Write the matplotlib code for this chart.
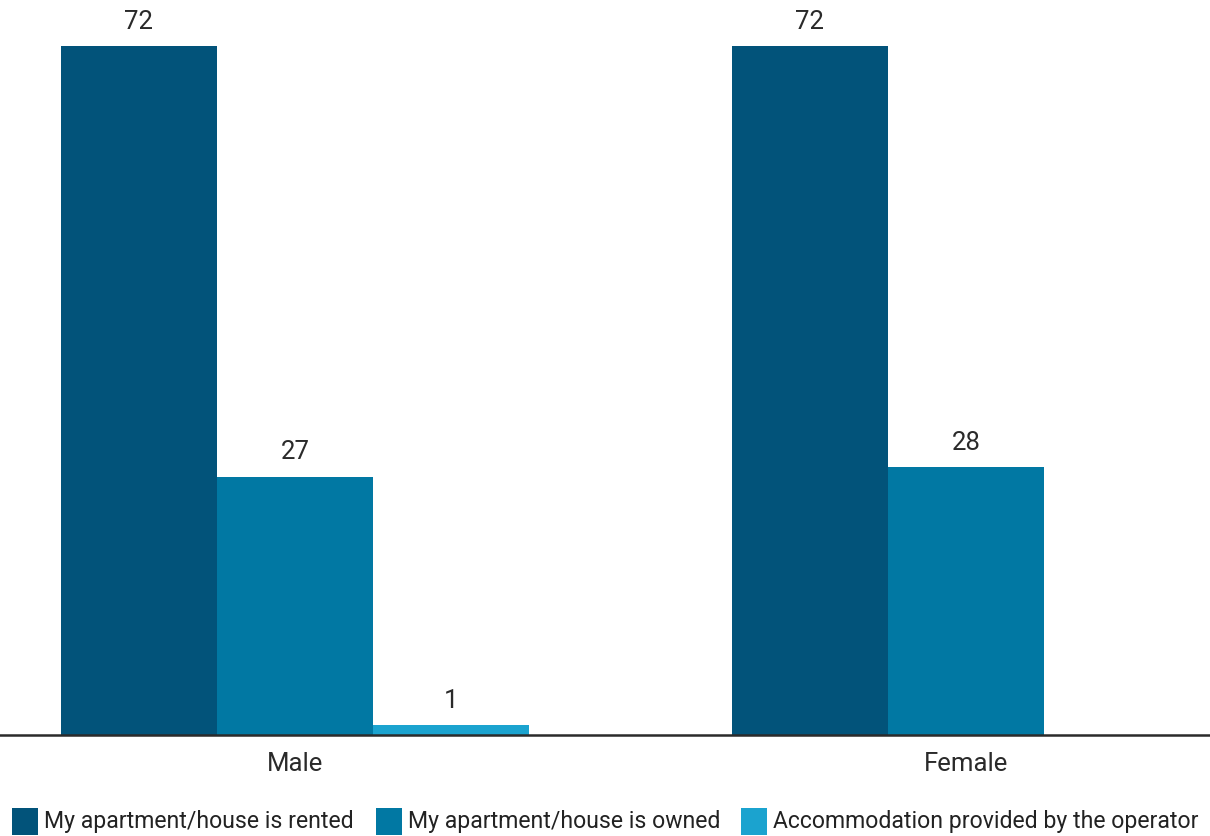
import matplotlib
matplotlib.use("Agg")
import matplotlib.pyplot as plt
from matplotlib.patches import Rectangle
import numpy as np

plt.rcParams['font.family'] = ['Roboto', 'DejaVu Sans']

groups = ["Male", "Female"]
series = [
    "My apartment/house is rented",
    "My apartment/house is owned",
    "Accommodation provided by the operator",
]
rented = [72, 72]
owned = [27, 28]
operator = [1, None]
values = [rented, owned, operator]
colors = ["#02537a", "#0178a3", "#1ba3cf"]

W, H = 1210, 836
fig = plt.figure(figsize=(W / 100, H / 100), dpi=100)
ax = fig.add_axes([0, (H - 735) / H, 1, 735 / H])

x = np.arange(len(groups))
bw = 0.2325
offsets = [-bw, 0, bw]
for vals, off, col in zip(values, offsets, colors):
    for xi, v in zip(x, vals):
        if v is None:
            continue
        ax.bar(xi + off, v, width=bw, color=col, linewidth=0)
        ax.text(xi + off, v + 1.8, f"{v}", ha="center", va="baseline",
                fontsize=18.5, color="#2a2a2a")

ax.set_xlim(-0.4396, 1.3636)
ax.set_ylim(0, 76.8)
for s in ["top", "right", "left"]:
    ax.spines[s].set_visible(False)
ax.spines["bottom"].set_color("#2b2b2b")
ax.spines["bottom"].set_linewidth(1.8)
ax.set_yticks([])
ax.set_xticks(x)
ax.set_xticklabels(groups, fontsize=18.5, color="#2a2a2a")
ax.tick_params(axis="x", length=0, pad=12.5)

# legend row along the bottom edge
leg_x = [12, 376, 741]
for lx, name, col in zip(leg_x, series, colors):
    fig.patches.append(Rectangle((lx / W, 1 - 835 / H), 26 / W, 27 / H,
                                 transform=fig.transFigure, color=col,
                                 linewidth=0))
    fig.text((lx + 32) / W, 1 - 828 / H, name, fontsize=16.6,
             color="#222222", va="baseline", ha="left")

fig.savefig("out.png", dpi=100)
